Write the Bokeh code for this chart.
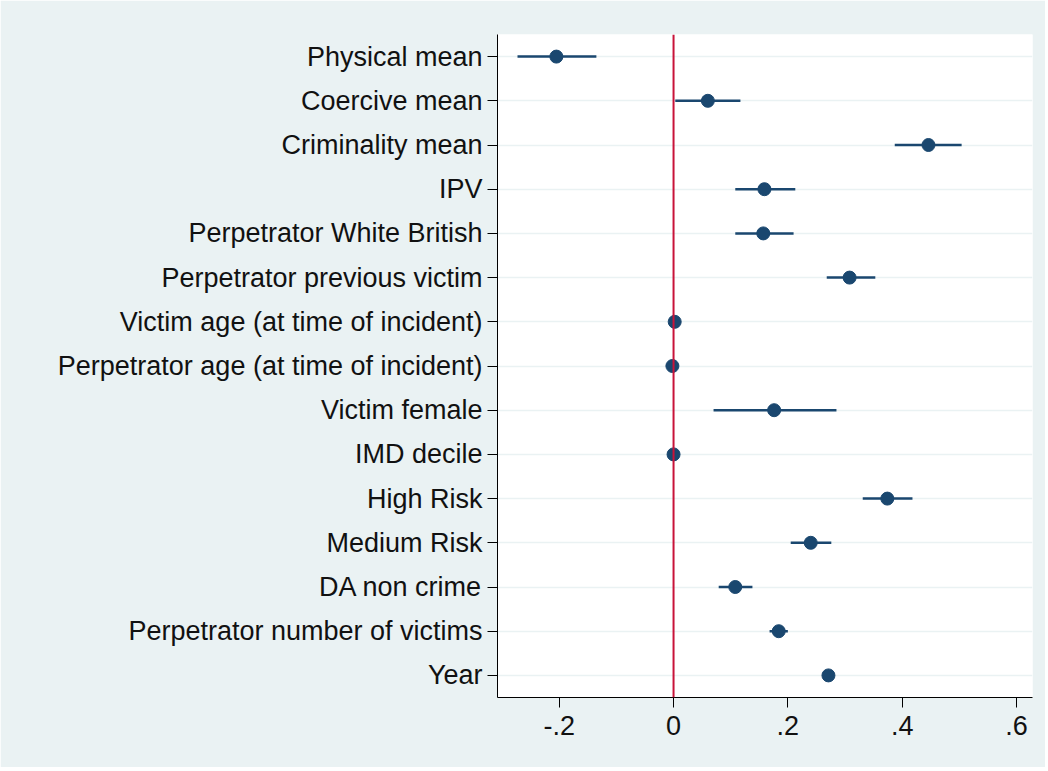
from bokeh.plotting import figure
from bokeh.models import FactorRange, Range1d, FixedTicker, Span, ColumnDataSource
from bokeh.embed import file_html
from bokeh.resources import INLINE

labels = [
    "Physical mean",
    "Coercive mean",
    "Criminality mean",
    "IPV",
    "Perpetrator White British",
    "Perpetrator previous victim",
    "Victim age (at time of incident)",
    "Perpetrator age (at time of incident)",
    "Victim female",
    "IMD decile",
    "High Risk",
    "Medium Risk",
    "DA non crime",
    "Perpetrator number of victims",
    "Year",
]
coef = [-0.205, 0.060, 0.446, 0.159, 0.157, 0.308, 0.002, -0.002, 0.176, 0.000, 0.374, 0.240, 0.108, 0.184, 0.271]
ci_low = [-0.273, 0.003, 0.387, 0.108, 0.108, 0.268, 0.000, -0.004, 0.070, -0.002, 0.331, 0.205, 0.079, 0.168, 0.268]
ci_high = [-0.135, 0.117, 0.504, 0.213, 0.210, 0.353, 0.004, 0.000, 0.285, 0.002, 0.418, 0.276, 0.138, 0.200, 0.274]

x_ticks = [-0.2, 0.0, 0.2, 0.4, 0.6]
x_tick_labels = ["-.2", "0", ".2", ".4", ".6"]
ref_line = 0.0

BG = "#EAF2F3"
NAVY = "#1A476F"
RED = "#C81339"
FONT = "Liberation Sans"

src = ColumnDataSource(dict(label=labels, coef=coef, lo=ci_low, hi=ci_high))

p = figure(
    width=1045, height=767,
    y_range=FactorRange(factors=list(reversed(labels))),
    x_range=Range1d(-0.308, 0.628),
    output_backend="svg", toolbar_location=None,
    min_border_left=497, min_border_right=13, min_border_top=34, min_border_bottom=70,
)
p.border_fill_color = BG
p.background_fill_color = "white"
p.outline_line_color = None

# grid
p.xgrid.grid_line_color = None
p.ygrid.grid_line_color = BG
p.ygrid.grid_line_width = 1.5

# reference line
p.add_layout(Span(location=ref_line, dimension="height", line_color=RED, line_width=2))

# CIs and points
p.segment(x0="lo", x1="hi", y0="label", y1="label", source=src, line_color=NAVY, line_width=2.5)
p.scatter(x="coef", y="label", source=src, size=13, fill_color=NAVY, line_color=NAVY)

# axes
p.xaxis.ticker = FixedTicker(ticks=x_ticks)
p.xaxis.major_label_overrides = {t: l for t, l in zip(x_ticks, x_tick_labels)}
for ax in (p.xaxis[0], p.yaxis[0]):
    ax.axis_line_color = "#000000"
    ax.axis_line_width = 1
    ax.major_tick_line_color = "#000000"
    ax.major_tick_line_width = 1
    ax.major_tick_out = 10
    ax.major_tick_in = 0
    ax.minor_tick_line_color = None
    ax.major_label_text_font = FONT
    ax.major_label_text_font_size = "27px"
    ax.major_label_text_color = "#111111"
p.xaxis.major_label_standoff = 8
p.yaxis.major_label_standoff = 5

open("out.html", "w").write(file_html(p, INLINE))
